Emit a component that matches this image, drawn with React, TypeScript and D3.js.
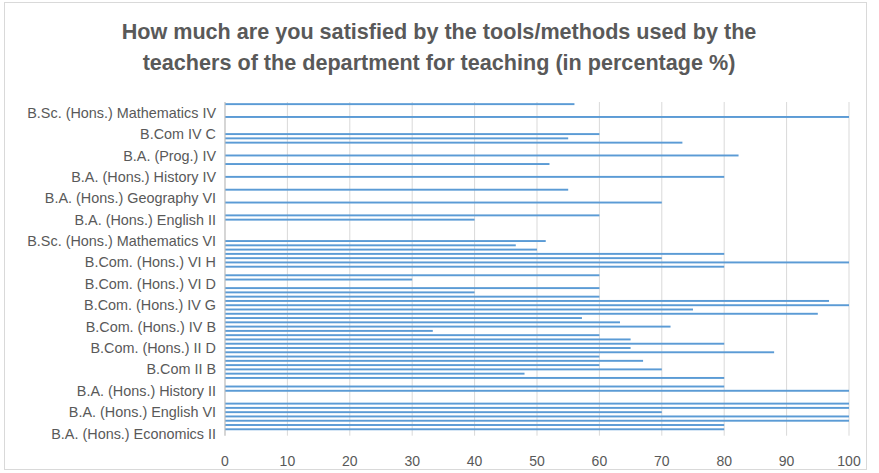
import React from 'react';
import * as d3 from 'd3';

const width = 879;
const height = 473;
const margin = { top: 102, right: 30, bottom: 37.3, left: 225 };
const innerWidth = width - margin.left - margin.right;
const innerHeight = height - margin.top - margin.bottom;

const titleLines = [
  'How much are you satisfied by the tools/methods used by the',
  'teachers of the department for teaching (in percentage %)',
];

// bottom -> top, Excel only prints every 5th category name
const shownLabels = [
  'B.A. (Hons.) Economics II',
  'B.A. (Hons.) English VI',
  'B.A. (Hons.) History II',
  'B.Com II B',
  'B.Com. (Hons.) II D',
  'B.Com. (Hons.) IV B',
  'B.Com. (Hons.) IV G',
  'B.Com. (Hons.) VI D',
  'B.Com. (Hons.) VI H',
  'B.Sc. (Hons.) Mathematics VI',
  'B.A. (Hons.) English II',
  'B.A. (Hons.) Geography VI',
  'B.A. (Hons.) History IV',
  'B.A. (Prog.) IV',
  'B.Com IV C',
  'B.Sc. (Hons.) Mathematics IV',
];

// satisfaction %, bottom -> top (0 = no bar)
const values = [
  0, 80, 80, 100, 100, 70, 100, 100, 0, 0,
  100, 80, 0, 80, 48, 70, 60, 67, 60, 88,
  65, 80, 65, 60, 33.3, 71.4, 63.3, 57.2, 95, 75,
  100, 96.8, 60, 40, 60, 0, 30, 60, 0, 80,
  100, 70, 80, 50, 46.6, 51.4, 0, 0, 0, 0,
  40, 60, 0, 0, 70, 0, 0, 55, 0, 0,
  80, 0, 0, 52, 0, 82.3, 0, 0, 73.3, 55,
  60, 0, 0, 0, 100, 0, 0, 56,
];

const xTicks = [0, 10, 20, 30, 40, 50, 60, 70, 80, 90, 100];

const textColor = '#595959';
const font = '"Liberation Sans", Arial, sans-serif';

export default function App() {
  const idx = values.map((_, i) => i);

  const xScale = d3.scaleLinear().domain([0, 100]).range([0, innerWidth]);
  const yScale = d3
    .scaleBand<number>()
    .domain(idx)
    .range([innerHeight, 0])
    .paddingInner(0.55)
    .paddingOuter(0.275);

  return (
    <svg
      width={width}
      height={height}
      style={{ position: 'absolute', left: 0, top: 0, background: '#fff' }}
    >
      <rect x={4.5} y={2.5} width={862} height={467} fill="#fff" stroke="#d9d9d9" />
      {titleLines.map((t, i) => (
        <text
          key={i}
          x={439}
          y={39 + i * 31}
          textAnchor="middle"
          fontFamily={font}
          fontWeight="bold"
          fontSize={21.6}
          fill={textColor}
        >
          {t}
        </text>
      ))}
      <g transform={`translate(${margin.left}, ${margin.top})`}>
        {/* gridlines */}
        {xTicks.map((t) => (
          <line
            key={t}
            x1={xScale(t)}
            x2={xScale(t)}
            y1={0}
            y2={innerHeight}
            stroke="#d9d9d9"
            strokeWidth={1}
          />
        ))}
        {xTicks.map((t) => (
          <text
            key={'l' + t}
            x={xScale(t)}
            y={innerHeight + 30}
            textAnchor="middle"
            fontFamily={font}
            fontSize={14}
            fill={textColor}
          >
            {t}
          </text>
        ))}
        {/* bars */}
        {values.map((v, i) =>
          v > 0 ? (
            <rect
              key={i}
              x={0}
              y={yScale(i)}
              width={xScale(v)}
              height={yScale.bandwidth()}
              fill="#5b9bd5"
            />
          ) : null
        )}
        {/* category axis */}
        <line x1={0} x2={0} y1={0} y2={innerHeight} stroke="#bfbfbf" />
        {idx
          .filter((i) => i % 5 === 0)
          .map((i) => (
            <text
              key={'c' + i}
              x={-9}
              y={(yScale(i) || 0) + yScale.bandwidth() / 2}
              dy="0.35em"
              textAnchor="end"
              fontFamily={font}
              fontSize={14.4}
              fill={textColor}
            >
              {shownLabels[i / 5]}
            </text>
          ))}
      </g>
    </svg>
  );
}
